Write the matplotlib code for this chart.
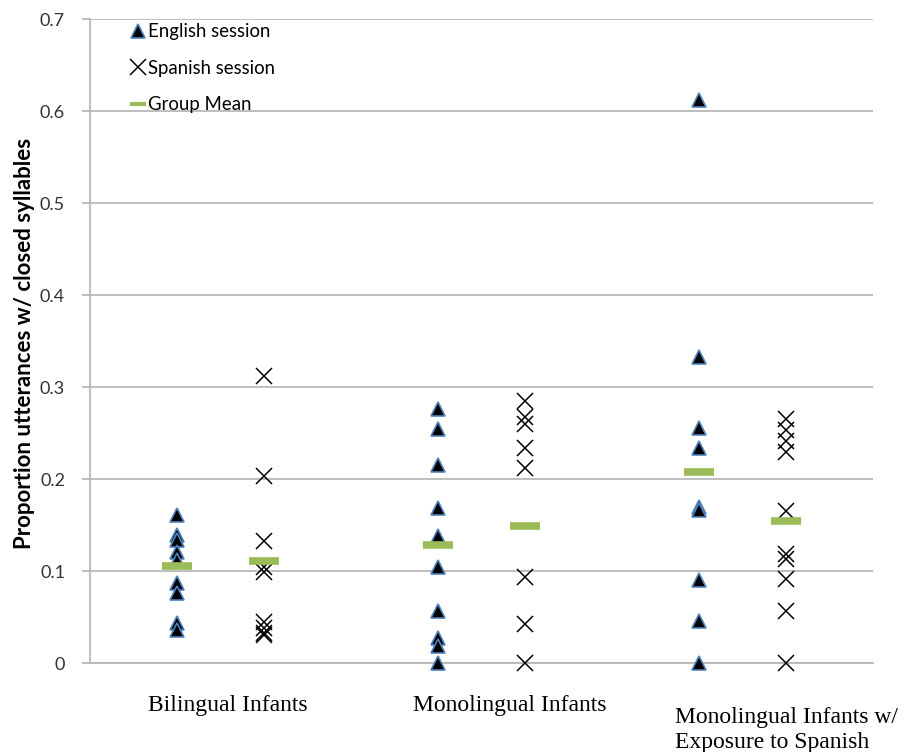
import matplotlib
matplotlib.use("Agg")
import matplotlib.pyplot as plt
import numpy as np

groups = ["Bilingual Infants", "Monolingual Infants", "Monolingual Infants w/\nExposure to Spanish"]

english_sessions = [
    [0.161, 0.139, 0.134, 0.121, 0.112, 0.087, 0.076, 0.043, 0.036],
    [0.276, 0.254, 0.215, 0.169, 0.138, 0.104, 0.056, 0.027, 0.019, 0.0],
    [0.612, 0.333, 0.255, 0.234, 0.170, 0.166, 0.090, 0.046, 0.0],
]
spanish_sessions = [
    [0.312, 0.203, 0.133, 0.104, 0.099, 0.045, 0.038, 0.033, 0.030],
    [0.285, 0.267, 0.260, 0.234, 0.212, 0.093, 0.042, 0.0],
    [0.265, 0.253, 0.241, 0.229, 0.165, 0.118, 0.113, 0.091, 0.057, 0.0],
]
english_means = [0.105, 0.128, 0.208]
spanish_means = [0.111, 0.149, 0.154]
yticks = [0, 0.1, 0.2, 0.3, 0.4, 0.5, 0.6, 0.7]
ytick_labels = ["0", "0.1", "0.2", "0.3", "0.4", "0.5", "0.6", "0.7"]

W, H = 922, 752
fig = plt.figure(figsize=(W / 100, H / 100), dpi=100)
ax = fig.add_axes([90 / W, 1 - 663 / H, 783 / W, 644 / H])

off = 0.167
grid_c = "#b3b3b3"
tri_kw = dict(marker="^", linestyle="none", markersize=10, markerfacecolor="black",
              markeredgecolor="#4f81bd", markeredgewidth=1.2, clip_on=False, zorder=3)
x_kw = dict(marker="x", linestyle="none", markersize=11.5, color="black",
            markeredgewidth=1.1, clip_on=False, zorder=3)
m_kw = dict(marker="_", linestyle="none", markersize=22, color="#9bbb59",
            markeredgewidth=5.5, clip_on=False, zorder=4)

for i in range(len(groups)):
    e = english_sessions[i]
    s = spanish_sessions[i]
    ax.plot(np.full(len(e), i - off), e, **tri_kw)
    ax.plot(np.full(len(s), i + off), s, **x_kw)
ax.plot(np.arange(3) - off, english_means, **m_kw)
ax.plot(np.arange(3) + off, spanish_means, **m_kw)

# legend proxies
h1, = ax.plot([], [], **tri_kw)
h2, = ax.plot([], [], **x_kw)
h3 = ax.plot([], [], marker="_", linestyle="none", markersize=11, color="#9bbb59",
             markeredgewidth=3.0)[0]
leg = ax.legend([h1, h2, h3], ["English session", "Spanish session", "Group Mean"],
                loc="upper left", bbox_to_anchor=(0.0447, 1.005), frameon=False,
                handlelength=0.6, handletextpad=0.24, labelspacing=1.05,
                prop={"family": "Lato", "size": 13.4}, borderaxespad=0)

ax.set_xlim(-0.5, 2.5)
ax.set_ylim(0, 0.7)
ax.set_yticks(yticks)
ax.set_yticklabels(ytick_labels, fontfamily="Lato", fontsize=13, color="#333333")
ax.set_xticks([])
ax.yaxis.grid(True, color=grid_c, linewidth=1.2)
ax.set_axisbelow(True)
ax.tick_params(axis="y", length=6, width=1.2, color=grid_c, pad=12)
for sp in ["top", "right"]:
    ax.spines[sp].set_visible(False)
ax.spines["left"].set_color(grid_c)
ax.spines["left"].set_linewidth(1.2)
ax.spines["bottom"].set_color(grid_c)
ax.spines["bottom"].set_linewidth(1.2)

fig.text(25 / W, 1 - 343 / H, "Proportion utterances w/ closed syllables", rotation=90,
         ha="center", va="center", fontfamily="Lato", fontweight="bold", fontsize=16)

serif = "Liberation Serif"
fig.text(228 / W, 1 - 705 / H, groups[0], ha="center", va="center", fontfamily=serif, fontsize=17)
fig.text(510 / W, 1 - 705 / H, groups[1], ha="center", va="center", fontfamily=serif, fontsize=17)
fig.text(675 / W, 1 - 730 / H, groups[2], ha="left", va="center", fontfamily=serif, fontsize=17,
         linespacing=1.22)

fig.savefig("out.png", dpi=100)
